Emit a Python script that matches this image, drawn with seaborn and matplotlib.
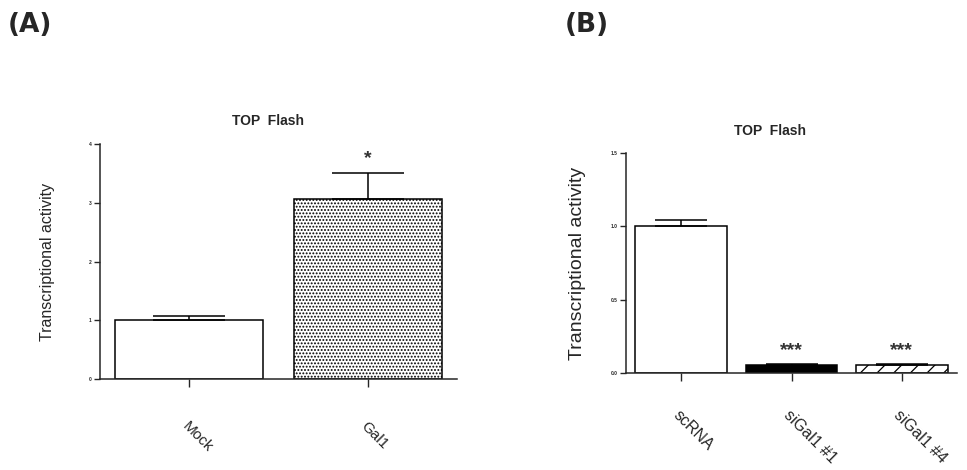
import numpy as np
import pandas as pd
import matplotlib
matplotlib.use("Agg")
import matplotlib.pyplot as plt
import seaborn as sns

# panel A: TOP Flash, Gal1 overexpression
a_groups = ["Mock", "Gal1"]
a_mean = [1.0, 3.07]
a_sem = [0.08, 0.44]
a_stars = ["", "*"]
a_yticks = [0, 1, 2, 3, 4]
a_ylabels = ["0", "1", "2", "3", "4"]

# panel B: TOP Flash, Gal1 knockdown
b_groups = ["scRNA", "siGal1 #1", "siGal1 #4"]
b_mean = [1.0, 0.052, 0.052]
b_sem = [0.04, 0.008, 0.007]
b_stars = ["", "***", "***"]
b_yticks = [0.0, 0.5, 1.0, 1.5]
b_ylabels = ["0.0", "0.5", "1.0", "1.5"]

sns.set_style("ticks")
plt.rcParams["font.family"] = ["Liberation Sans", "DejaVu Sans"]
plt.rcParams["hatch.linewidth"] = 0.9

fig = plt.figure(figsize = (9.67, 4.70), dpi = 100)
ax_a = fig.add_axes([0.1034, 0.1936, 0.3692, 0.5])
ax_b = fig.add_axes([0.6474, 0.2064, 0.3423, 0.4681])


def draw_panel(ax, groups, mean, sem, stars, yticks, ylabels, ymax,
               capsize, label_size, ylab_size, pad, title_x, title_y, star_size):
    df = pd.DataFrame({"group": groups, "mean": mean})
    sns.barplot(data = df, x = "group", y = "mean", ax = ax, color = "white",
                edgecolor = "black", linewidth = 1.1, width = 0.83,
                errorbar = None, saturation = 1)
    x = np.arange(len(groups))
    # GraphPad style: only the upper half of the SEM bar
    ax.errorbar(x, mean, yerr = [np.zeros(len(groups)), sem], fmt = "none",
                ecolor = "black", elinewidth = 1.1, capsize = capsize,
                capthick = 1.1, zorder = 1)
    for i, s in enumerate(stars):
        if s:
            ax.annotate(s, (x[i], mean[i] + sem[i]), xytext = (0, 10),
                        textcoords = "offset points", ha = "center", va = "center",
                        fontsize = star_size, fontweight = "bold", color = "#333333")
    ax.set_xlim(-0.5, len(groups) - 0.5)
    ax.set_ylim(0, ymax)
    ax.set_yticks(yticks)
    ax.set_yticklabels(ylabels, fontsize = 3.5, fontweight = "bold")
    ax.set_xticks(x)
    ax.set_xticklabels(groups, fontsize = label_size, rotation = -45,
                       rotation_mode = "anchor", ha = "left", va = "top")
    ax.tick_params(axis = "x", length = 6, width = 1, pad = pad)
    ax.tick_params(axis = "y", length = 4.3, width = 1, pad = 1.5)
    ax.set_xlabel("")
    ax.set_ylabel("Transcriptional activity", fontsize = ylab_size)
    ax.text(title_x, title_y, "TOP  Flash", transform = ax.transAxes,
            ha = "center", va = "center", fontsize = 10, fontweight = "bold")
    for sp in ["left", "bottom"]:
        ax.spines[sp].set_linewidth(1.1)
    sns.despine(ax = ax)


draw_panel(ax_a, a_groups, a_mean, a_sem, a_stars, a_yticks, a_ylabels, 4,
           capsize = 26, label_size = 11, ylab_size = 11.5, pad = 23,
           title_x = 0.47, title_y = 1.10, star_size = 14)
draw_panel(ax_b, b_groups, b_mean, b_sem, b_stars, b_yticks, b_ylabels, 1.5,
           capsize = 19, label_size = 11.5, ylab_size = 14, pad = 19,
           title_x = 0.435, title_y = 1.10, star_size = 14)

# fill styles of the bars
ax_a.patches[1].set_hatch(".....")
ax_b.patches[1].set_facecolor("black")
ax_b.patches[2].set_hatch("//")

# y-labels: right edge placed in figure coords, centred on their axes
ax_a.yaxis.set_label_coords(0.057, (0.1936 + 0.6936) / 2, transform = fig.transFigure)
ax_b.yaxis.set_label_coords(0.606, (0.2064 + 0.6745) / 2, transform = fig.transFigure)

fig.text(0.008, 0.975, "(A)", fontsize = 19, fontweight = "bold", ha = "left", va = "top",
         family = ["DejaVu Sans"])
fig.text(0.584, 0.975, "(B)", fontsize = 19, fontweight = "bold", ha = "left", va = "top",
         family = ["DejaVu Sans"])

fig.savefig("out.png", dpi = 100)
